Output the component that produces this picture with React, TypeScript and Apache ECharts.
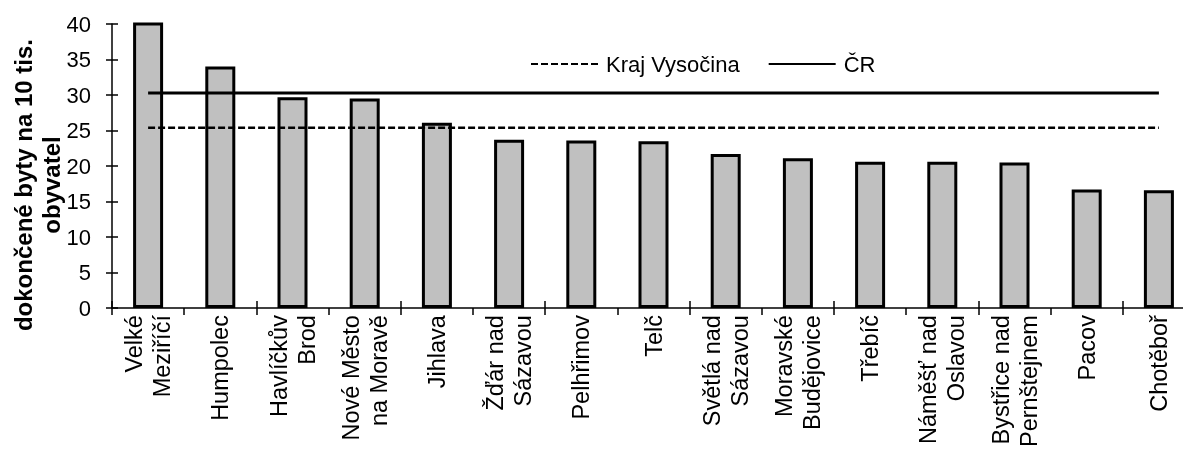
import React, { useEffect, useRef } from "react";
import * as echarts from "echarts";

const categories = [
  "Velké\nMeziříčí",
  "Humpolec",
  "Havlíčkův\nBrod",
  "Nové Město\nna Moravě",
  "Jihlava",
  "Žďár nad\nSázavou",
  "Pelhřimov",
  "Telč",
  "Světlá nad\nSázavou",
  "Moravské\nBudějovice",
  "Třebíč",
  "Náměšť nad\nOslavou",
  "Bystřice nad\nPernštejnem",
  "Pacov",
  "Chotěboř",
];

const barValues = [48, 34.0, 29.7, 29.5, 26.1, 23.7, 23.6, 23.5, 21.7, 21.1, 20.6, 20.6, 20.5, 16.7, 16.6];
const krajValues = [25.4, 25.4, 25.4, 25.4, 25.4, 25.4, 25.4, 25.4, 25.4, 25.4, 25.4, 25.4, 25.4, 25.4, 25.4];
const crValues = [30.3, 30.3, 30.3, 30.3, 30.3, 30.3, 30.3, 30.3, 30.3, 30.3, 30.3, 30.3, 30.3, 30.3, 30.3];
const yTicks = { min: 0, max: 40, interval: 5 };
const yTitle = "dokončené byty na 10 tis.\nobyvatel";
const seriesNames = ["Kraj Vysočina", "ČR"];

const FONT = "'Liberation Sans', Arial, sans-serif";

export default function App() {
  const ref = useRef<HTMLDivElement>(null);
  useEffect(() => {
    if (!ref.current) return;
    const chart = echarts.init(ref.current, undefined, { renderer: "svg" });
    const axisLine = { show: true, lineStyle: { color: "#000", width: 1.5 } };
    chart.setOption({
      animation: false,
      textStyle: { fontFamily: FONT, color: "#000" },
      grid: { left: 112, right: 0, top: 24, bottom: 138, containLabel: false },
      legend: {
        left: 530,
        top: 53,
        padding: 0,
        itemWidth: 67,
        itemHeight: 14,
        itemGap: 28,
        data: seriesNames,
        itemStyle: { opacity: 0 },
        textStyle: { fontFamily: FONT, fontSize: 22, color: "#000", padding: [0, 0, 0, 3] },
      },
      xAxis: [
        {
          type: "category",
          data: categories,
          axisLine,
          axisTick: { show: true, length: 7, lineStyle: { color: "#000", width: 1.5 } },
          axisLabel: {
            rotate: 90,
            interval: 0,
            margin: 7,
            fontSize: 23.5,
            lineHeight: 28,
            color: "#000",
            fontFamily: FONT,
          },
          splitLine: { show: false },
        },
        {
          type: "category",
          data: categories,
          position: "bottom",
          axisLine: { show: false },
          axisTick: { show: true, inside: true, length: 7, lineStyle: { color: "#000", width: 1.5 } },
          axisLabel: { show: false },
          splitLine: { show: false },
        },
      ],
      yAxis: [
        {
          type: "value",
          position: "left",
          min: yTicks.min,
          max: yTicks.max,
          interval: yTicks.interval,
          axisLine,
          axisTick: { show: true, length: 6, lineStyle: { color: "#000", width: 1.5 } },
          axisLabel: { fontSize: 22, margin: 21, color: "#000", fontFamily: FONT },
          splitLine: { show: false },
        },
        {
          type: "value",
          position: "left",
          min: yTicks.min,
          max: yTicks.max,
          interval: yTicks.interval,
          axisLine: { show: false },
          axisTick: { show: true, inside: true, length: 6, lineStyle: { color: "#000", width: 1.5 } },
          axisLabel: { show: false },
          splitLine: { show: false },
        },
      ],
      graphic: [
        {
          type: "text",
          x: 37,
          y: 185,
          rotation: Math.PI / 2,
          style: {
            text: yTitle,
            fontFamily: FONT,
            fontSize: 24,
            fontWeight: "bold",
            lineHeight: 28,
            fill: "#000",
            textAlign: "center",
            textVerticalAlign: "middle",
          },
        },
      ],
      series: [
        {
          type: "bar",
          data: barValues,
          barWidth: 30,
          clip: true,
          itemStyle: { color: "#c0c0c0", borderColor: "#000", borderWidth: 3 },
          silent: true,
        },
        {
          name: seriesNames[0],
          type: "line",
          data: krajValues,
          symbol: "none",
          itemStyle: { color: "#000" },
          lineStyle: { color: "#000", width: 2.5, type: [7, 3] },
          silent: true,
        },
        {
          name: seriesNames[1],
          type: "line",
          data: crValues,
          symbol: "none",
          itemStyle: { color: "#000" },
          lineStyle: { color: "#000", width: 3, type: "solid" },
          silent: true,
        },
      ],
    });
    return () => chart.dispose();
  }, []);
  return (
    <div style={{ position: "fixed", left: 0, top: 0, width: 1183, height: 450, overflow: "hidden" }}>
      <div ref={ref} style={{ width: 1195, height: 450 }} />
    </div>
  );
}
